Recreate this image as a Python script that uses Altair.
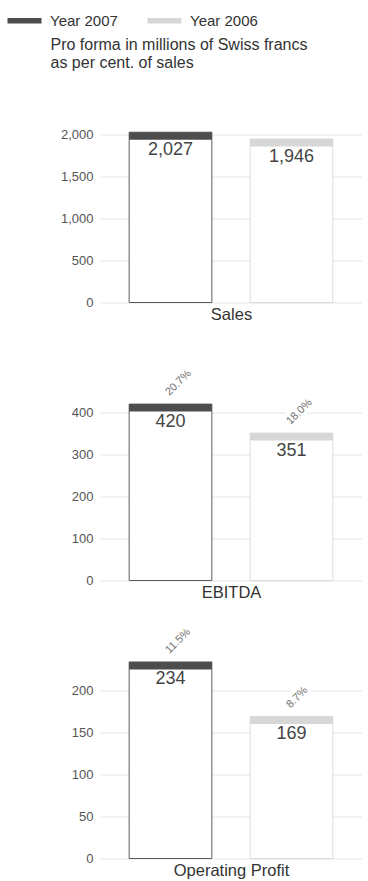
import altair as alt
import pandas as pd

# Figures, pro forma, in millions of Swiss francs
metrics = ["Sales", "EBITDA", "Operating Profit"]
years = ["Year 2007", "Year 2006"]
values_2007 = [2027, 420, 234]
values_2006 = [1946, 351, 169]
margin_2007 = [None, "20.7%", "11.5%"]
margin_2006 = [None, "18.0%", "8.7%"]
axis_ticks = [
    [0, 500, 1000, 1500, 2000],
    [0, 100, 200, 300, 400],
    [0, 50, 100, 150, 200],
]
subtitle = ["Pro forma in millions of Swiss francs", "as per cent. of sales"]

FONT = "Liberation Sans"
cap_colors = ["#4d4d4d", "#d7d7d7"]
edge_colors = ["#5c5c5c", "#dcdcdc"]
# white plate behind the slanted percentage labels (unit box, rotated with the text)
LABEL_PLATE = "M-0.15,-0.6L1.6,-0.6L1.6,0.15L-0.15,0.15Z"
# wide flat swatch for the legend (drawn at symbolSize 64, i.e. 4 px per unit)
LEGEND_SWATCH = "M-3.25,-0.7L5.25,-0.7L5.25,0.7L-3.25,0.7Z"

rows = []
for i, m in enumerate(metrics):
    rows.append({"metric": m, "year": years[0], "value": values_2007[i], "pct": margin_2007[i]})
    rows.append({"metric": m, "year": years[1], "value": values_2006[i], "pct": margin_2006[i]})
df = pd.DataFrame(rows)


def panel(i):
    m = metrics[i]
    data = df[df.metric == m]
    ticks = axis_ticks[i]

    x = alt.X(
        "year:N",
        sort=years,
        scale=alt.Scale(domain=years, paddingInner=0.3165, paddingOuter=0.241),
        axis=alt.Axis(
            title=m, labels=False, ticks=False, domain=False, grid=False,
            titleFontSize=16.5, titleFontWeight="normal", titleColor="#333333",
            titlePadding=4, titleFont=FONT,
        ),
    )

    yaxis = dict(
        values=ticks, format=",.0f", ticks=False, domain=False,
        grid=True, gridColor="#e4e4e4", gridWidth=1,
        labelFontSize=13, labelColor="#555555", labelPadding=7, labelFont=FONT,
    )
    if i == 0:
        # the unit note sits above the first panel, set as the axis title
        yaxis.update(
            title=subtitle, titleAngle=0, titleAlign="left", titleBaseline="alphabetic",
            titleX=-50, titleY=-85, titleFontSize=16, titleFontWeight="normal",
            titleColor="#333333", titleLineHeight=18, titleFont=FONT,
        )
    else:
        yaxis.update(title=None)

    y = alt.Y(
        "value:Q",
        scale=alt.Scale(domain=[0, ticks[-1]], nice=False, zero=True),
        axis=alt.Axis(**yaxis),
    )

    base = alt.Chart(data).encode(x=x, y=y)

    outline = base.mark_bar(fill="white", strokeWidth=1).encode(
        stroke=alt.condition(
            alt.datum.year == years[0], alt.value(edge_colors[0]), alt.value(edge_colors[1])
        )
    )

    legend = None
    if i == 0:
        legend = alt.Legend(
            title=None, orient="none", legendX=-87, legendY=-121.5,
            direction="horizontal", columns=2, columnPadding=29,
            symbolType=LEGEND_SWATCH, symbolSize=64, symbolStrokeWidth=0,
            labelFontSize=15, labelColor="#333333", labelOffset=22,
            labelFont=FONT, labelLimit=200, padding=0,
        )
    cap = base.mark_bar(y2Offset=7.5).encode(
        y2=alt.Y2("value:Q"),
        color=alt.Color(
            "year:N", scale=alt.Scale(domain=years, range=cap_colors), legend=legend
        ),
    )
    amount = base.mark_text(
        baseline="top", dy=8.5, fontSize=18, color="#444444", font=FONT
    ).encode(text=alt.Text("value:Q", format=","))

    layers = [outline, cap, amount]

    pct_data = data[data.pct.notna()]
    if len(pct_data):
        pbase = alt.Chart(pct_data).encode(x=x, y=y)
        plate = pbase.mark_point(
            shape=LABEL_PLATE, size=1600, filled=True, fill="white", opacity=1,
            strokeWidth=0, angle=315, xOffset=-1, yOffset=-8,
        )
        pct = pbase.mark_text(
            angle=315, align="left", baseline="alphabetic", xOffset=-1, yOffset=-8,
            fontSize=11, color="#707070", font=FONT,
        ).encode(text="pct:N")
        layers = [plate] + layers + [pct]

    return alt.layer(*layers).properties(width=262, height=168)


chart = (
    alt.vconcat(*[panel(i) for i in range(3)], spacing=110, bounds="flush")
    .resolve_scale(color="independent")
    .resolve_legend(color="independent")
    .properties(padding={"left": 13, "top": 12.5, "right": 0, "bottom": 0})
    .configure(font=FONT)
    .configure_view(stroke=None)
)

chart.save("out.html", embed_options={"renderer": "svg", "actions": False})
